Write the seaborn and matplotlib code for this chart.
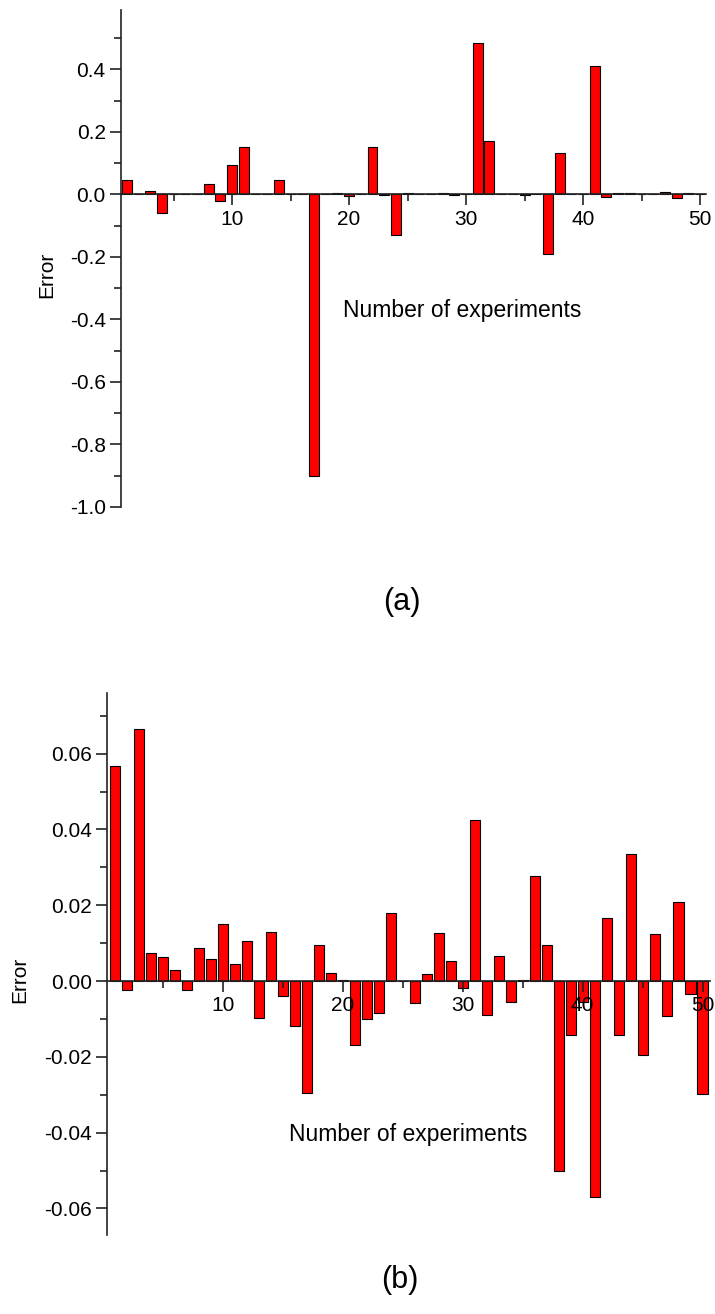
import matplotlib
matplotlib.use('Agg')
import matplotlib.pyplot as plt
from matplotlib.ticker import MultipleLocator, FormatStrFormatter
import seaborn as sns

# experiment index, 1..50
experiments = list(range(1, 51))

# (a) error per experiment
error_a = [0.047, 0.0, 0.012, -0.059, 0.0, 0.0, 0.0, 0.034, -0.020, 0.095,
           0.151, 0.0, 0.0, 0.047, 0.0, 0.0, -0.900, 0.0, 0.005, -0.004,
           0.002, 0.151, -0.003, -0.129, 0.003, 0.0, 0.0, 0.004, -0.002, 0.0,
           0.483, 0.170, 0.0, 0.002, -0.002, 0.0, -0.192, 0.131, 0.0, 0.0,
           0.410, -0.008, 0.003, 0.003, 0.001, 0.0, 0.009, -0.012, 0.003, 0.001]

# (b) error per experiment
error_b = [0.0567, -0.0024, 0.0664, 0.0075, 0.0064, 0.0030, -0.0024, 0.0087, 0.0058, 0.0151,
           0.0046, 0.0106, -0.0097, 0.0130, -0.0040, -0.0118, -0.0296, 0.0096, 0.0020, 0.0003,
           -0.0169, -0.0099, -0.0083, 0.0180, 0.0, -0.0057, 0.0019, 0.0126, 0.0054, -0.0018,
           0.0425, -0.0089, 0.0066, -0.0056, 0.0003, 0.0278, 0.0095, -0.0501, -0.0143, -0.0055,
           -0.0570, 0.0166, -0.0143, 0.0336, -0.0195, 0.0124, -0.0092, 0.0208, -0.0034, -0.0298]

plt.rcParams['font.family'] = ['Liberation Sans', 'DejaVu Sans']

fig = plt.figure(figsize=(7.15, 13.14), dpi=100)
ax_a = fig.add_axes([0.1692, 0.6142, 0.818, 0.3782])
ax_b = fig.add_axes([0.1497, 0.0601, 0.843, 0.4125])


def draw_panel(ax, values, ylim, xlim, ymajor, yminor, yfmt):
    sns.barplot(x=experiments, y=values, native_scale=True, width=0.85,
                color='#ff0000', saturation=1, edgecolor='black',
                linewidth=0.8, errorbar=None, ax=ax)
    ax.set_xlim(*xlim)
    ax.set_ylim(*ylim)

    # axes frame: left spine + x axis through zero
    for side in ['top', 'right']:
        ax.spines[side].set_visible(False)
    ax.spines['bottom'].set_position(('data', 0))
    for side in ['left', 'bottom']:
        ax.spines[side].set_linewidth(1.2)
        ax.spines[side].set_color('#222222')

    ax.xaxis.set_major_locator(MultipleLocator(10))
    ax.xaxis.set_minor_locator(MultipleLocator(5))
    ax.yaxis.set_major_locator(MultipleLocator(ymajor))
    ax.yaxis.set_minor_locator(MultipleLocator(yminor))
    ax.yaxis.set_major_formatter(FormatStrFormatter(yfmt))
    ax.set_xticks([10, 20, 30, 40, 50])

    ax.tick_params(which='major', direction='out', length=8, width=1.2,
                   labelsize=15, color='#222222', pad=3)
    ax.tick_params(which='minor', direction='out', length=5, width=1.2,
                   color='#222222')
    ax.set_xlabel('')
    ax.set_ylabel('')


draw_panel(ax_a, error_a, (-1.0, 0.59), (0.5, 50.5), 0.2, 0.1, '%.1f')
draw_panel(ax_b, error_b, (-0.067, 0.076), (0.35, 50.6), 0.02, 0.01, '%.2f')

# labels placed as in the original figure
fig.text(0.065, 1 - 275 / 1314, 'Error', rotation=90, ha='center',
         va='center', fontsize=15)
fig.text(0.028, 1 - 980 / 1314, 'Error', rotation=90, ha='center',
         va='center', fontsize=15)

fig.text(462 / 715, 1 - 311 / 1314, 'Number of experiments', ha='center',
         va='center', fontsize=16.5)
fig.text(408.5 / 715, 1 - 1134 / 1314, 'Number of experiments', ha='center',
         va='center', fontsize=16.5)

fig.text(402 / 715, 1 - 602 / 1314, '(a)', ha='center', va='center',
         fontsize=22)
fig.text(400 / 715, 1 - 1280 / 1314, '(b)', ha='center', va='center',
         fontsize=22)

fig.savefig('out.png', dpi=100)
